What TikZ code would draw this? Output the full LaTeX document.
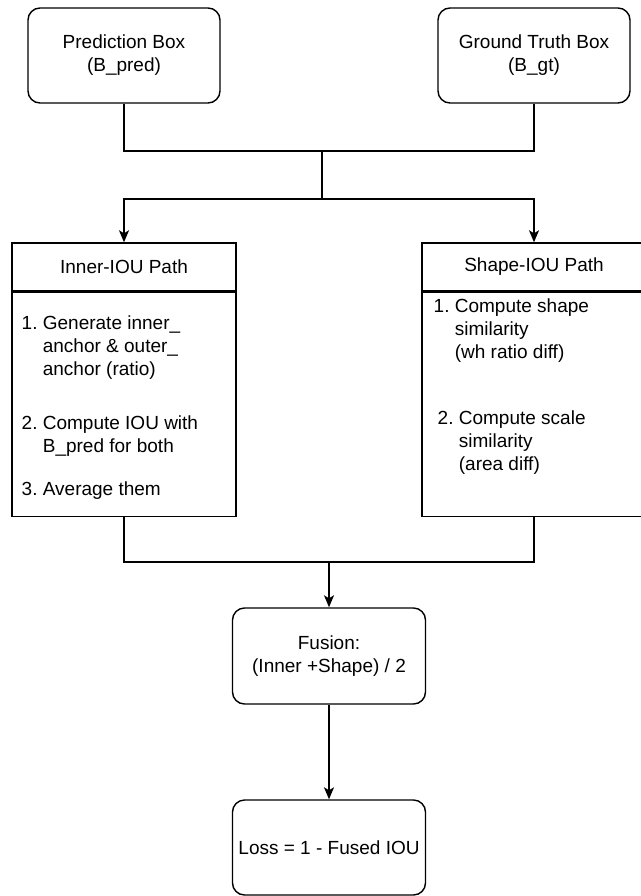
\documentclass[tikz,border=0pt]{standalone}
\usepackage{fontspec}
\setmainfont{Liberation Sans}
\usetikzlibrary{arrows.meta}

\begin{document}
\begin{tikzpicture}[x=1pt,y=-1pt,line width=1.4pt,font=\fontsize{19}{23}\selectfont,
rbox/.style={draw,rounded corners=12pt,minimum width=192pt,minimum height=95pt,align=center,inner sep=0pt},
pbox/.style={draw,minimum width=224pt,inner sep=0pt},
item/.style={anchor=west,inner sep=0pt},
link/.style={-{Stealth[length=12pt,width=10pt,inset=3pt]}}]
\useasboundingbox (0,0) rectangle (640,896);

% inputs
\node[rbox] (pred) at (124,55.5) {Prediction Box\\(B\_pred)};
\node[rbox] (gt) at (534,55.5) {Ground Truth Box\\(B\_gt)};

% the two paths
\node[pbox,minimum height=48pt] (innerhead) at (124,267) {Inner-IOU Path};
\node[pbox,minimum height=224pt,anchor=north] (innerbody) at (innerhead.south) {};
\node[pbox,minimum height=48pt] (shapehead) at (534,267) {Shape-IOU Path};
\node[pbox,minimum height=224pt,anchor=north] (shapebody) at (shapehead.south) {};

\node[item] (inner1) at (21,348) {\begin{tabular}{@{}l@{\hspace{0.28em}}l@{}}1.&Generate inner\_\\&anchor \& outer\_\\&anchor (ratio)\end{tabular}};
\node[item] (inner2) at (21,436) {\begin{tabular}{@{}l@{\hspace{0.28em}}l@{}}2.&Compute IOU with\\&B\_pred for both\end{tabular}};
\node[item] (inner3) at (21,491) {\begin{tabular}{@{}l@{\hspace{0.28em}}l@{}}3.&Average them\end{tabular}};
\node[item] (shape1) at (433,331) {\begin{tabular}{@{}l@{\hspace{0.28em}}l@{}}1.&Compute shape\\&similarity\\&(wh ratio diff)\end{tabular}};
\node[item] (shape2) at (437,443) {\begin{tabular}{@{}l@{\hspace{0.28em}}l@{}}2.&Compute scale\\&similarity\\&(area diff)\end{tabular}};

% output side
\node[rbox,minimum width=193pt,minimum height=96pt] (fusion) at (329,656) {Fusion:\\(Inner +Shape) / 2};
\node[rbox,minimum width=193pt,minimum height=95pt] (loss) at (329,847.5) {Loss = 1 - Fused IOU};

% connectors
\coordinate (join) at (322,151);
\coordinate (fork) at (322,199);
\coordinate (merge) at (329,562);
\draw (pred.south) |- (join) -| (gt.south);
\draw (join) -- (fork);
\draw[link] (fork) -| (innerhead.north);
\draw[link] (fork) -| (shapehead.north);
\draw (innerbody.south) |- (merge) -| (shapebody.south);
\draw[link] (merge) -- (fusion.north);
\draw[link] (fusion) -- (loss);
\end{tikzpicture}
\end{document}
